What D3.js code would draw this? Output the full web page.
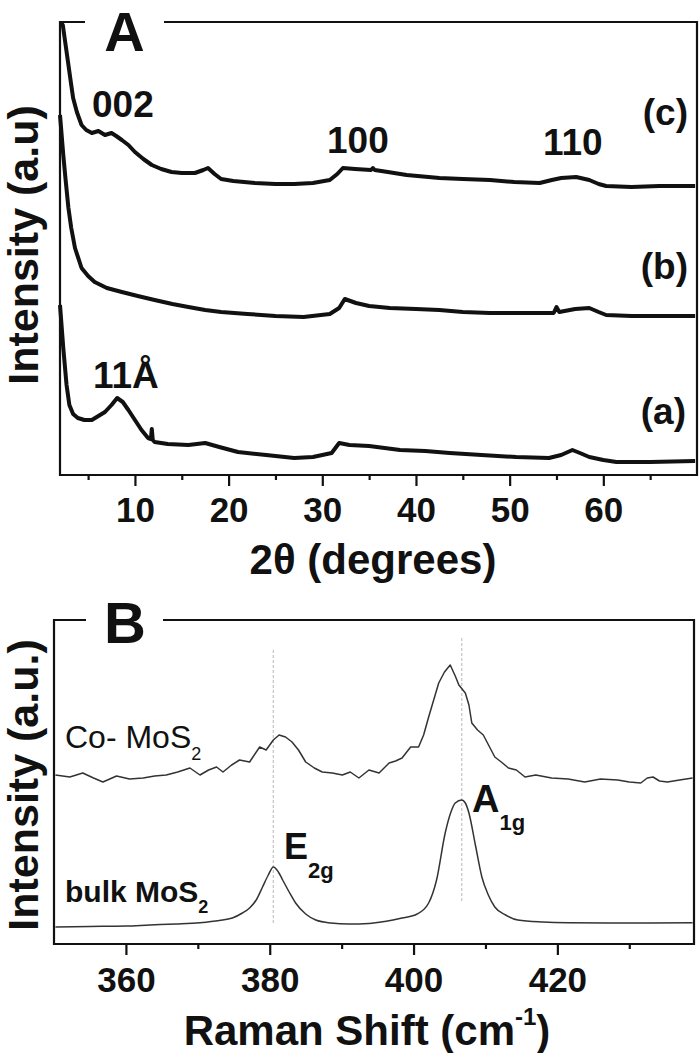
<!DOCTYPE html>
<html><head><meta charset="utf-8">
<script src="https://cdn.jsdelivr.net/npm/d3@7/dist/d3.min.js"></script>
<style>body{margin:0;background:#fff} text{font-family:"Liberation Sans",Arial,Helvetica,sans-serif}</style>
</head><body><svg id="c" width="700" height="1053"></svg>
<script>
// ---------- Panel A : XRD (2θ, intensity a.u., traces offset) ----------
const xrdMajorTicks = [10, 20, 30, 40, 50, 60];
const xrdMinorTicks = [5, 15, 25, 35, 45, 55, 65];
const xrdC = [[2.1,453],[2.3,450],[2.6,430],[2.9,410],[3.2,390],[3.4,377],[3.8,363],[4.3,350],[4.8,345],[5.4,342],[6.1,344],[6.8,340],[7.5,342],[8.0,339],[8.6,335],[9.3,330],[10,323],[10.9,316],[11.8,310],[12.8,306],[13.9,303],[15,302],[16.4,302],[17.3,305],[17.8,307],[18.5,301],[19.2,296],[20.5,294],[22.8,292],[25,291],[27,291],[29,292],[30.8,295],[31.6,301],[32.2,307],[33.5,306],[35.2,305],[35.4,307],[35.6,305],[37,303],[39,300],[42.5,297],[45,296],[47.9,295],[50.5,293],[53.2,292],[54.5,295],[55.5,297],[57.1,298],[58.5,295],[59.5,291],[60.3,289],[63,288],[66,289],[69.8,289]];
const xrdB = [[2.0,360],[2.35,320],[2.6,295],[2.9,267],[3.2,247],[3.6,227],[4.3,207],[5.0,199],[5.7,193],[7,187],[8.6,183],[10.3,179],[12.1,175],[14,171],[15.7,168],[17.5,165],[19.2,163],[22,161],[25,159],[28,158],[30.8,161],[31.8,167],[32.4,176],[33.6,172],[35,169],[37.2,167],[40,166],[42.5,165],[45,163],[47.9,162],[51,162],[54.7,162],[55,168],[55.3,163],[57,166],[58.5,167],[59.5,163],[60.3,160],[63,159],[66,159],[69.8,159]];
const xrdA = [[2.0,170],[2.35,127],[2.7,90],[3.0,70],[3.4,61],[3.9,57],[4.6,55],[5.4,55],[6.1,59],[6.8,63],[7.5,70],[8.1,77],[8.7,73],[9.3,65],[10,55],[10.7,45],[11.4,37],[11.7,36],[11.8,46],[11.9,35],[12.1,33],[13.5,31],[15.7,30],[17.5,32],[19,28],[21,23],[24,20],[27,17],[29,18],[31,22],[31.8,32],[32.9,30],[35,29],[38.3,25],[41,24],[43.6,22],[47,20],[50.7,18],[54.2,17],[55.5,20],[56.7,25],[57.5,22],[58.5,18],[60,15],[61.4,13],[65,13],[69.8,14]];

// ---------- Panel B : Raman ----------
const ramanMajorTicks = [360, 380, 400, 420];
const ramanMinorTicks = [370, 390, 410, 430];
const ramanCo = [[350.2,169],[352.2,167],[354,171],[355.5,166],[356.8,162],[358.7,168],[360.5,165],[362.4,166],[364,168],[365.6,169],[367.2,172],[368.9,176],[370.3,169],[371.5,174],[372.6,177],[373.5,172],[374.7,179],[375.8,184],[377.2,182],[378.6,197],[379.5,194],[380.5,204],[381.3,209],[382.2,207],[383.1,202],[384,194],[385,182],[386.2,176],[387.3,172],[388.7,171],[390.1,169],[391.2,172],[392.4,166],[393.8,174],[395.2,171],[396.6,181],[397.5,183],[398.4,186],[399.6,197],[400.7,197],[401.4,209],[402.1,227],[402.8,244],[403.5,261],[404.3,272],[405.1,279],[405.8,268],[406.3,259],[407.2,251],[407.7,239],[408.1,221],[408.9,214],[409.7,209],[410.5,198],[411.3,187],[412.2,182],[413.2,176],[414.3,174],[415.5,167],[417,169],[419.2,166],[421.5,165],[423.8,162],[426,165],[428.4,164],[430,162],[431.6,161],[432.5,166],[433.3,167],[434.2,163],[435.3,162],[437,164],[438.8,166]];
const ramanBulk = [[350.2,17],[355,17.5],[360,18],[363.3,19],[367,20],[370.3,21.3],[373,23.5],[374.8,26],[376.2,31],[377.2,36],[378.2,45],[379,57],[379.8,69],[380.5,77],[381.2,72],[381.8,64],[382.7,52],[383.6,41],[385,30],[386.4,24],[388.5,21],[391,20],[393.8,20.5],[396,22.5],[398.4,26],[400.5,30],[402.1,41],[403.2,64],[404.4,111],[405.2,132],[405.8,141],[406.7,144],[407.2,141],[407.7,131],[408.6,99],[409.5,67],[410.4,49],[411.3,37],[412.8,29],[414.5,24],[418,22],[421.5,21.3],[430,21],[438.8,21.3]];
const ramanRefLines = [[380.5,294,21],[406.7,306,41]]; // position, top, bottom (a.u.)

const svg = d3.select("#c");
const F = '"Liberation Sans",Arial,Helvetica,sans-serif';

function frame(g, L, T, R, B, gap0, gap1) {
  const p = d3.path();
  p.moveTo(gap0, T); p.lineTo(L, T); p.lineTo(L, B); p.lineTo(R, B); p.lineTo(R, T); p.lineTo(gap1, T);
  g.append("path").attr("d", p.toString()).attr("fill","none").attr("stroke","#111").attr("stroke-width",2.2);
}
function axes(g, x, yPos, major, minor, pad) {
  const ax = g.append("g").attr("transform",`translate(0,${yPos})`)
    .call(d3.axisBottom(x).tickValues(major).tickSize(11).tickPadding(pad).tickSizeOuter(0));
  ax.select(".domain").remove();
  ax.selectAll("line").attr("stroke","#111").attr("stroke-width",2.2);
  ax.selectAll("text").attr("font-family",F).attr("font-size",35).attr("font-weight","bold").attr("fill","#111");
  const mi = g.append("g").attr("transform",`translate(0,${yPos})`)
    .call(d3.axisBottom(x).tickValues(minor).tickSize(5).tickFormat(""));
  mi.select(".domain").remove();
  mi.selectAll("line").attr("stroke","#111").attr("stroke-width",2.2);
}
function txt(g, x, y, s, size, weight, anchor) {
  return g.append("text").attr("x",x).attr("y",y).attr("font-size",size)
    .attr("font-weight",weight||"bold").attr("text-anchor",anchor||"start").attr("fill","#111").text(s);
}

// ===== Panel A =====
const gA = svg.append("g");
const xA = d3.scaleLinear().domain([2,70]).range([60,697]);
const yA = d3.scaleLinear().domain([0,453]).range([475,22]);
const lineA = d3.line().x(d=>xA(d[0])).y(d=>yA(d[1]));
[xrdC, xrdB, xrdA].forEach(s => {
  gA.append("path").datum(s).attr("d", lineA).attr("fill","none")
    .attr("stroke","#111").attr("stroke-width",4).attr("stroke-linejoin","round");
});
frame(gA, 60, 22, 697, 475, 85, 164);
axes(gA, xA, 475, xrdMajorTicks, xrdMinorTicks, 11);
txt(gA, 124.5, 51, "A", 56, "bold", "middle");
txt(gA, 92, 117, "002", 37);
txt(gA, 327, 153, "100", 37);
txt(gA, 543, 155, "110", 37);
txt(gA, 93, 388, "11Å", 37);
txt(gA, 688, 125, "(c)", 37, "bold", "end");
txt(gA, 688, 279, "(b)", 37, "bold", "end");
txt(gA, 686, 424, "(a)", 37, "bold", "end");
txt(gA, 373, 574, "2θ (degrees)", 42, "bold", "middle");
gA.append("text").attr("transform","translate(38,245) rotate(-90)").attr("text-anchor","middle")
  .attr("font-size",43).attr("font-weight","bold").attr("fill","#111").text("Intensity (a.u)");

// ===== Panel B =====
const gB = svg.append("g");
const xB = d3.scaleLinear().domain([350,439]).range([54,694]);
const yB = d3.scaleLinear().domain([0,324]).range([944,620]);
ramanRefLines.forEach(r => {
  gB.append("line").attr("x1",xB(r[0])).attr("x2",xB(r[0])).attr("y1",yB(r[1])).attr("y2",yB(r[2]))
    .attr("stroke","#c8c8c8").attr("stroke-width",1.3).attr("stroke-dasharray","3,2");
});
gB.append("path").datum(ramanCo).attr("d", d3.line().x(d=>xB(d[0])).y(d=>yB(d[1])))
  .attr("fill","none").attr("stroke","#333").attr("stroke-width",1.5).attr("stroke-linejoin","round");
gB.append("path").datum(ramanBulk).attr("d", d3.line().curve(d3.curveMonotoneX).x(d=>xB(d[0])).y(d=>yB(d[1])))
  .attr("fill","none").attr("stroke","#333").attr("stroke-width",1.5);
frame(gB, 54, 620, 694, 944, 86, 163);
axes(gB, xB, 944, ramanMajorTicks, ramanMinorTicks, 12);
txt(gB, 125, 643, "B", 58, "bold", "middle");

const co = txt(gB, 65, 748, "Co- MoS", 32, "normal");
co.append("tspan").attr("font-size",18).attr("dy",12).text("2");
const bk = txt(gB, 65, 902, "bulk MoS", 30, "bold");
bk.append("tspan").attr("font-size",18).attr("dy",11).text("2");
const e = txt(gB, 284, 859, "E", 36);
e.append("tspan").attr("font-size",22).attr("dy",19).text("2g");
const a1 = txt(gB, 472, 812, "A", 38);
a1.append("tspan").attr("font-size",22).attr("dy",18).text("1g");

const xt = txt(gB, 367, 1045, "Raman Shift (cm", 42, "bold", "middle");
xt.append("tspan").attr("font-size",24).attr("dy",-20).text("-1");
xt.append("tspan").attr("dy",20).text(")");
gB.append("text").attr("transform","translate(38,785) rotate(-90)").attr("text-anchor","middle")
  .attr("font-size",43).attr("font-weight","bold").attr("fill","#111").text("Intensity (a.u.)");
</script></body></html>
